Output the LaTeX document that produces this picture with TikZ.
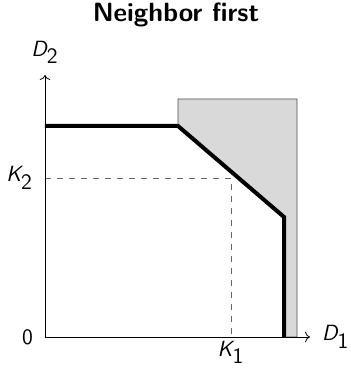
\documentclass[tikz,border=0pt]{standalone}
\usetikzlibrary{arrows.meta}
\renewcommand{\familydefault}{\sfdefault}
\newcommand{\lab}[2]{$\textit{#1}_{\textsf{#2}}$}

\begin{document}
\begin{tikzpicture}[x=0.5pt,y=0.5pt,font=\fontsize{11}{13}\selectfont]
  \useasboundingbox (-45,-33) rectangle (306,337);
  \coordinate (O) at (0,0);
  \coordinate (X) at (265,0);
  \coordinate (Y) at (0,262);
  \coordinate (P) at (0,211);
  \coordinate (Q) at (133,211);
  \coordinate (R) at (239,120);
  \coordinate (S) at (239,0);
  \coordinate (K) at (186,159);
  % region
  \draw[black!70,fill=black!15] (Q)--(133,238)--(252,238)--(252,0)--(S)--(R)--cycle;
  \draw[dashed,black!60] (O|-K)--(K)--(K|-O);
  \draw[->] (O)--(X);
  \draw[->] (O)--(Y);
  \draw[line width=2pt] (P)--(Q)--(R)--(S);
  \node[left=2.5pt] at (O) {0};
  \node[left=2.5pt] at (O|-K) {\lab{K}{2}};
  \node[below,inner sep=2pt] at (K|-O) {\lab{K}{1}};
  \node[right=2.5pt] at (X) {\lab{D}{1}};
  \node[above=2pt] at (Y) {\lab{D}{2}};
  \node[font=\fontsize{13.2}{16}\selectfont\bfseries] at (131,322) {Neighbor first};
\end{tikzpicture}
\end{document}
